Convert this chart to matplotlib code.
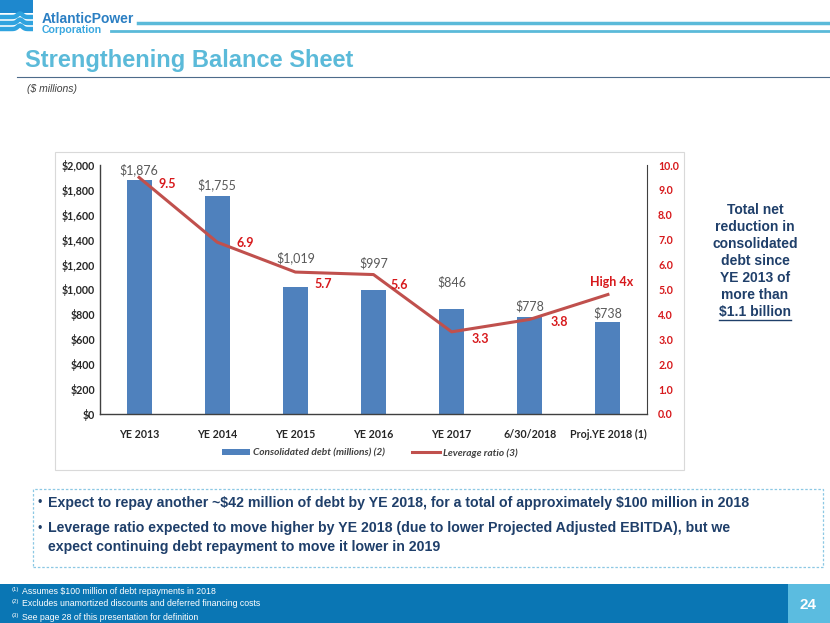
import matplotlib
matplotlib.use('Agg')
import matplotlib.pyplot as plt
from matplotlib.patches import Rectangle, Patch
from matplotlib.lines import Line2D
import numpy as np

periods = ['YE 2013', 'YE 2014', 'YE 2015', 'YE 2016', 'YE 2017', '6/30/2018', 'Proj.YE 2018 (1)']
debt = [1876, 1755, 1019, 997, 846, 778, 738]
leverage = [9.5, 6.9, 5.7, 5.6, 3.3, 3.8, 4.8]
leverage_labels = ['9.5', '6.9', '5.7', '5.6', '3.3', '3.8', 'High 4x']

bullets = ['Expect to repay another ~$42 million of debt by YE 2018, for a total of approximately $100 million in 2018',
           'Leverage ratio expected to move higher by YE 2018 (due to lower Projected Adjusted EBITDA), but we\nexpect continuing debt repayment to move it lower in 2019']
footnotes = ['Assumes $100 million of debt repayments in 2018',
             'Excludes unamortized discounts and deferred financing costs',
             'See page 28 of this presentation for definition']
side_note = ['Total net', 'reduction in', 'consolidated', 'debt since', 'YE 2013 of', 'more than']

W, H = 830, 623
BLUE = '#4F81BD'
RED = '#C0504D'
LABEL_RED = '#D7191C'
SLIDE_BLUE = '#5BBAD9'
NAVY = '#1F3F6A'

plt.rcParams['font.family'] = ['Liberation Sans', 'DejaVu Sans']
plt.rcParams['text.parse_math'] = False

fig = plt.figure(figsize=(W / 100, H / 100), dpi=100)

def fx(x):
    return x / W

def fy(y):
    return 1 - y / H

# ---- header / logo
fig.patches.append(Rectangle((0, fy(13)), fx(33), 13 / H, transform=fig.transFigure,
                             facecolor='#1E88CE', edgecolor='none'))
xs = np.linspace(0, 33, 60)
bump = 3.5 * np.exp(-((xs - 20) / 3.5) ** 2)
for yy in (17, 23, 29):
    fig.lines.append(Line2D(fx(xs), fy(yy - bump), transform=fig.transFigure,
                            color='#2FA3DF', lw=3.2, solid_capstyle='butt'))
fig.text(fx(42), fy(19), 'AtlanticPower', color='#2B7FC3', fontsize=10, fontweight='bold', va='center')
fig.text(fx(42), fy(30), 'Corporation', color='#3AA8E0', fontsize=7.6, fontweight='bold', va='center')
fig.lines.append(Line2D([fx(138), 1], [fy(23), fy(23)], transform=fig.transFigure, color=SLIDE_BLUE, lw=2.5))
fig.lines.append(Line2D([fx(111), 1], [fy(31), fy(31)], transform=fig.transFigure, color=SLIDE_BLUE, lw=2))

fig.text(fx(25), fy(60), 'Strengthening Balance Sheet', color=SLIDE_BLUE, fontsize=17,
         fontweight='bold', va='center')
fig.lines.append(Line2D([fx(17), 1], [fy(77), fy(77)], transform=fig.transFigure, color='#4D6B8A', lw=0.8))
fig.text(fx(27), fy(89), '($ millions)', color='#404040', fontsize=7.5, style='italic', va='center')

# ---- chart frame
fig.patches.append(Rectangle((fx(55), fy(470)), fx(684 - 55), (470 - 152) / H, transform=fig.transFigure,
                             facecolor='none', edgecolor='#D9D9D9', lw=0.8))

ax = fig.add_axes([fx(100), fy(414), fx(647 - 100), (414 - 165) / H])
ax.patch.set_alpha(0)
x = np.arange(len(periods))
ax.bar(x, debt, width=0.32, color=BLUE, zorder=2)
ax.set_xlim(-0.5, len(periods) - 0.5)
ax.set_ylim(0, 2000)
ax.set_yticks(np.arange(0, 2001, 200))
ax.set_yticklabels(['${:,}'.format(v) for v in range(0, 2001, 200)])
ax.set_xticks(x)
ax.set_xticklabels(periods)
ax.tick_params(length=0, labelsize=7.7, colors='#262626')
ax.tick_params(axis='x', pad=11)
for lab in ax.get_xticklabels() + ax.get_yticklabels():
    lab.set_fontweight('bold')
    lab.set_family(['Lato', 'DejaVu Sans'])
for s in ('top', 'right'):
    ax.spines[s].set_visible(False)
for s in ('left', 'bottom'):
    ax.spines[s].set_color('#404040')
    ax.spines[s].set_linewidth(1)

bar_offsets = [11, 11, 29, 27, 26, 11, 9]
for i, v in enumerate(debt):
    ax.annotate('${:,}'.format(v), (i, v), xytext=(0, bar_offsets[i]), textcoords='offset pixels',
                ha='center', va='center', fontsize=9, color='#595959', family=['Lato', 'DejaVu Sans'])

ax2 = ax.twinx()
ax2.plot(x, leverage, color=RED, lw=2.2, zorder=3)
ax2.set_ylim(0, 10)
ax2.set_yticks(np.arange(0, 10.01, 1))
ax2.set_yticklabels(['{:.1f}'.format(v) for v in np.arange(0, 10.01, 1)])
ax2.tick_params(length=0, labelsize=7.7, colors=LABEL_RED, pad=8)
for lab in ax2.get_yticklabels():
    lab.set_fontweight('bold')
    lab.set_family(['Lato', 'DejaVu Sans'])
for s in ('top', 'left', 'bottom'):
    ax2.spines[s].set_visible(False)
ax2.spines['right'].set_color('#404040')

line_offsets = [(28, -7), (28, -1), (28, -12), (26, -10), (29, -7), (30, -3), (4, 12)]
for i, v in enumerate(leverage):
    ax2.annotate(leverage_labels[i], (i, v), xytext=line_offsets[i], textcoords='offset pixels',
                 ha='center', va='center', fontsize=9, fontweight='bold', color=LABEL_RED,
                 family=['Lato', 'DejaVu Sans'])

handles = [Patch(facecolor=BLUE), Line2D([0], [0], color=RED, lw=2.2)]
leg = fig.legend(handles, ['Consolidated debt (millions) (2)', 'Leverage ratio (3)'],
                 loc='center', bbox_to_anchor=(fx(370), fy(453)), ncol=2, frameon=False,
                 prop={'size': 7.3, 'weight': 'bold', 'style': 'italic', 'family': ['Lato', 'DejaVu Sans']},
                 handlelength=2.8, handleheight=0.6, columnspacing=2.6, handletextpad=0.3)
for t in leg.get_texts():
    t.set_color('#404040')

# ---- side note
for k, line in enumerate(side_note):
    fig.text(fx(755), fy(210 + k * 17), line, ha='center', va='center', fontsize=10,
             fontweight='bold', color=NAVY)
bill = fig.text(fx(755), fy(210 + 6 * 17), '$1.1 billion', ha='center', va='center', fontsize=10,
                fontweight='bold', color=NAVY)

# ---- bullet box
fig.patches.append(Rectangle((fx(33), fy(567)), fx(823 - 33), (567 - 489) / H, transform=fig.transFigure,
                             facecolor='none', edgecolor='#8CC8E4', lw=0.9, ls=(0, (2, 1.5))))
for yy, txt in zip((503, 529), bullets):
    fig.text(fx(40), fy(yy), '•', ha='center', va='center', fontsize=9, color=NAVY)
    fig.text(fx(48), fy(yy - 8) if '\n' in txt else fy(yy), txt, ha='left',
             va='top' if '\n' in txt else 'center', fontsize=10.2,
             fontweight='bold', color=NAVY, linespacing=1.45)

# ---- footer band
fig.patches.append(Rectangle((0, 0), 1, (H - 584) / H, transform=fig.transFigure,
                             facecolor='#0A76B4', edgecolor='none'))
fig.patches.append(Rectangle((fx(788), 0), fx(W - 788), (H - 584) / H, transform=fig.transFigure,
                             facecolor='#5BBCE0', edgecolor='none'))
fig.text(fx(808), fy(605), '24', ha='center', va='center', fontsize=11, fontweight='bold', color='white')
for k, note in enumerate(footnotes):
    yy = 591 + k * 13
    fig.text(fx(12), fy(yy - 2), '({})'.format(k + 1), ha='left', va='center', fontsize=4.3, color='white')
    fig.text(fx(22), fy(yy), note, ha='left', va='center', fontsize=6.3, color='white')

# underline under "$1.1 billion"
fig.canvas.draw()
bb = bill.get_window_extent().transformed(fig.transFigure.inverted())
fig.lines.append(Line2D([bb.x0, bb.x1], [bb.y0 - 0.002, bb.y0 - 0.002], transform=fig.transFigure,
                        color=NAVY, lw=1))

fig.savefig('out.png', dpi=100)
